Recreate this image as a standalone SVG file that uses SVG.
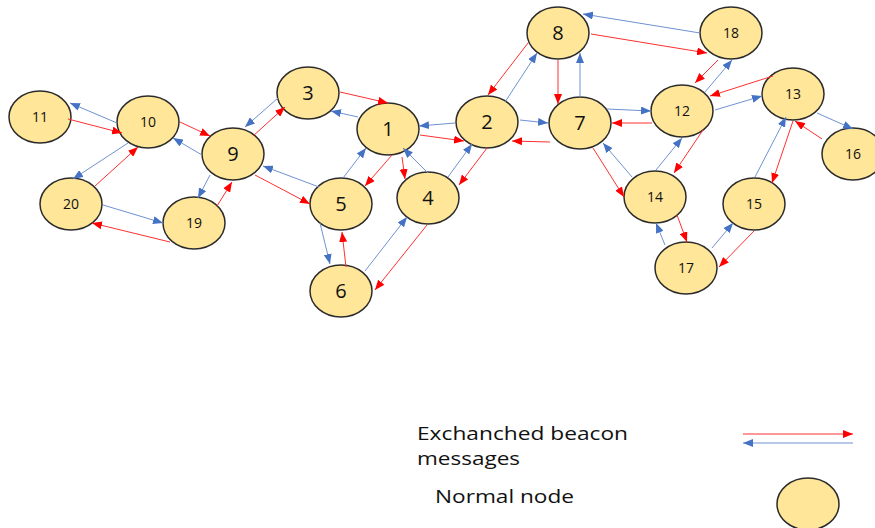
<svg xmlns="http://www.w3.org/2000/svg" width="875" height="528" viewBox="0 0 875 528">
<style>
.n{fill:#FFE699;stroke:#2b2b2b;stroke-width:1.5}
.t1{font-family:"Open Sans","Liberation Sans",sans-serif;font-size:20px;fill:#111;text-anchor:middle}
.t2{font-family:"Open Sans","Liberation Sans",sans-serif;font-size:14px;fill:#111;text-anchor:middle}
.r{stroke:#FF3030;stroke-width:1;fill:none;marker-end:url(#ar)}
.b{stroke:#6E92D2;stroke-width:1;fill:none;marker-end:url(#ab)}
.lg{font-family:"Open Sans","Liberation Sans",sans-serif;font-size:18px;fill:#111}
</style>
<defs>
<marker id="ar" viewBox="0 0 10 8" refX="10" refY="4" markerWidth="10" markerHeight="8" markerUnits="userSpaceOnUse" orient="auto"><path d="M0,0L10,4L0,8z" fill="#FF0000"/></marker>
<marker id="ab" viewBox="0 0 10 8" refX="10" refY="4" markerWidth="10" markerHeight="8" markerUnits="userSpaceOnUse" orient="auto"><path d="M0,0L10,4L0,8z" fill="#4472C4"/></marker>
</defs>
<rect width="875" height="528" fill="#fff"/>
<g id="nodes">
<g id="n1"><ellipse class="n" cx="388" cy="129" rx="31" ry="26"/><text class="t1" x="388" y="136">1</text></g>
<g id="n2"><ellipse class="n" cx="487" cy="122" rx="31" ry="26"/><text class="t1" x="487" y="129">2</text></g>
<g id="n3"><ellipse class="n" cx="308" cy="93" rx="31" ry="26"/><text class="t1" x="308" y="100">3</text></g>
<g id="n4"><ellipse class="n" cx="428" cy="198" rx="31" ry="26"/><text class="t1" x="428" y="205">4</text></g>
<g id="n5"><ellipse class="n" cx="341" cy="204" rx="31" ry="26"/><text class="t1" x="341" y="211">5</text></g>
<g id="n6"><ellipse class="n" cx="341" cy="291" rx="31" ry="26"/><text class="t1" x="341" y="298">6</text></g>
<g id="n7"><ellipse class="n" cx="580" cy="123" rx="31" ry="26"/><text class="t1" x="580" y="130">7</text></g>
<g id="n8"><ellipse class="n" cx="558" cy="33" rx="31" ry="26"/><text class="t1" x="558" y="40">8</text></g>
<g id="n9"><ellipse class="n" cx="233" cy="154" rx="31" ry="26"/><text class="t1" x="233" y="161">9</text></g>
<g id="n10"><ellipse class="n" cx="148" cy="122" rx="31" ry="26"/><text class="t2" x="148" y="127">10</text></g>
<g id="n11"><ellipse class="n" cx="40" cy="117" rx="31" ry="26"/><text class="t2" x="40" y="122">11</text></g>
<g id="n12"><ellipse class="n" cx="682" cy="111" rx="31" ry="26"/><text class="t2" x="682" y="116">12</text></g>
<g id="n13"><ellipse class="n" cx="793" cy="94" rx="31" ry="26"/><text class="t2" x="793" y="99">13</text></g>
<g id="n14"><ellipse class="n" cx="655" cy="197" rx="31" ry="26"/><text class="t2" x="655" y="202">14</text></g>
<g id="n15"><ellipse class="n" cx="754" cy="204" rx="31" ry="26"/><text class="t2" x="754" y="209">15</text></g>
<g id="n16"><ellipse class="n" cx="853" cy="154" rx="31" ry="26"/><text class="t2" x="853" y="159">16</text></g>
<g id="n17"><ellipse class="n" cx="686" cy="268" rx="31" ry="26"/><text class="t2" x="686" y="273">17</text></g>
<g id="n18"><ellipse class="n" cx="731" cy="33" rx="31" ry="26"/><text class="t2" x="731" y="38">18</text></g>
<g id="n19"><ellipse class="n" cx="194" cy="223" rx="31" ry="26"/><text class="t2" x="194" y="228">19</text></g>
<g id="n20"><ellipse class="n" cx="71" cy="204" rx="31" ry="26"/><text class="t2" x="71" y="209">20</text></g>
</g>
<g id="connectors">
<line class="r" x1="68" y1="119" x2="122" y2="133"/>
<line class="r" x1="180" y1="122" x2="210" y2="136"/>
<line class="r" x1="95" y1="186" x2="138" y2="147"/>
<line class="r" x1="170" y1="242" x2="92" y2="223"/>
<line class="r" x1="217" y1="206" x2="232" y2="182"/>
<line class="r" x1="253" y1="136" x2="285" y2="107"/>
<line class="r" x1="255" y1="175" x2="310" y2="204"/>
<line class="r" x1="340" y1="92" x2="388" y2="103"/>
<line class="r" x1="420" y1="135" x2="464" y2="141"/>
<line class="r" x1="528" y1="43" x2="488" y2="95"/>
<line class="r" x1="550" y1="142" x2="512" y2="141"/>
<line class="r" x1="392" y1="155" x2="365" y2="186"/>
<line class="r" x1="402" y1="157" x2="405" y2="179"/>
<line class="r" x1="487" y1="148" x2="459" y2="185"/>
<line class="r" x1="346" y1="267" x2="342" y2="232"/>
<line class="r" x1="427" y1="225" x2="375" y2="290"/>
<line class="r" x1="591" y1="34" x2="707" y2="53"/>
<line class="r" x1="558" y1="60" x2="558" y2="104"/>
<line class="r" x1="652" y1="123" x2="612" y2="123"/>
<line class="r" x1="718" y1="60" x2="695" y2="83"/>
<line class="r" x1="773" y1="76" x2="710" y2="96"/>
<line class="r" x1="703" y1="130" x2="674" y2="173"/>
<line class="r" x1="593" y1="148" x2="624" y2="197"/>
<line class="r" x1="677" y1="215" x2="687" y2="242"/>
<line class="r" x1="754" y1="231" x2="719" y2="267"/>
<line class="r" x1="793" y1="121" x2="772" y2="183"/>
<line class="r" x1="822" y1="139" x2="795" y2="121"/>
<line class="b" x1="117" y1="123" x2="70" y2="103"/>
<line class="b" x1="202" y1="155" x2="173" y2="138"/>
<line class="b" x1="128" y1="143" x2="73" y2="179"/>
<line class="b" x1="103" y1="205" x2="163" y2="223"/>
<line class="b" x1="210" y1="175" x2="198" y2="198"/>
<line class="b" x1="278" y1="98" x2="245" y2="127"/>
<line class="b" x1="319" y1="187" x2="263" y2="166"/>
<line class="b" x1="358" y1="117" x2="331" y2="111"/>
<line class="b" x1="455" y1="123" x2="419" y2="126"/>
<line class="b" x1="505" y1="102" x2="537" y2="53"/>
<line class="b" x1="520" y1="120" x2="548" y2="123"/>
<line class="b" x1="343" y1="178" x2="366" y2="148"/>
<line class="b" x1="428" y1="173" x2="403" y2="148"/>
<line class="b" x1="448" y1="177" x2="472" y2="144"/>
<line class="b" x1="320" y1="223" x2="330" y2="264"/>
<line class="b" x1="365" y1="271" x2="407" y2="217"/>
<line class="b" x1="700" y1="33" x2="583" y2="14"/>
<line class="b" x1="580" y1="97" x2="580" y2="53"/>
<line class="b" x1="607" y1="109" x2="651" y2="111"/>
<line class="b" x1="705" y1="92" x2="732" y2="60"/>
<line class="b" x1="715" y1="110" x2="762" y2="96"/>
<line class="b" x1="656" y1="170" x2="682" y2="138"/>
<line class="b" x1="632" y1="177" x2="603" y2="143"/>
<line class="b" x1="665" y1="245" x2="656" y2="223"/>
<line class="b" x1="712" y1="248" x2="733" y2="223"/>
<line class="b" x1="755" y1="177" x2="786" y2="117"/>
<line class="b" x1="817" y1="113" x2="853" y2="129"/>
</g>
<g id="legend">
<text class="lg" x="417" y="440" textLength="211" lengthAdjust="spacingAndGlyphs">Exchanched beacon</text>
<text class="lg" x="417" y="465" textLength="103" lengthAdjust="spacingAndGlyphs">messages</text>
<text class="lg" x="435" y="503" textLength="139" lengthAdjust="spacingAndGlyphs">Normal node</text>
<line class="r" x1="743" y1="434" x2="853" y2="434"/>
<line class="b" x1="853" y1="443" x2="743" y2="443"/>
<ellipse class="n" cx="808" cy="504" rx="31" ry="26"/>
</g>
</svg>
